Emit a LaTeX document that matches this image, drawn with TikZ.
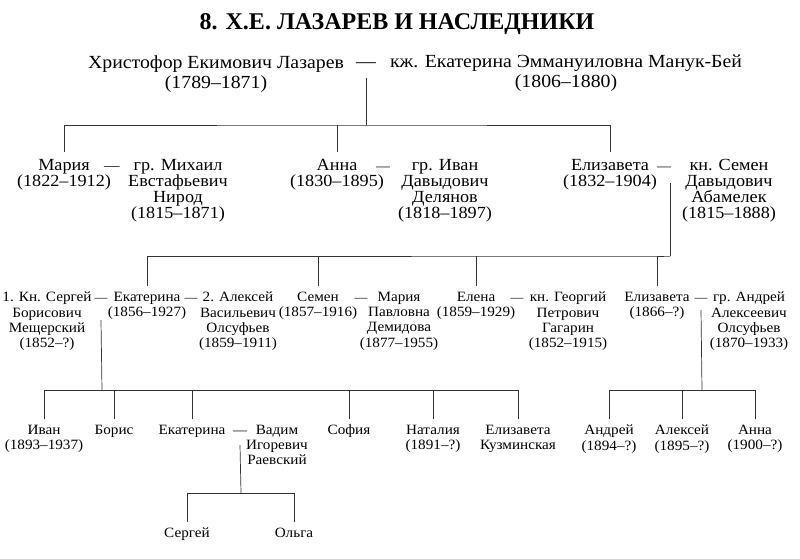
\documentclass[tikz,border=0pt]{standalone}
\usepackage{fontspec}
\setmainfont{Liberation Serif}[FakeStretch=1.07]
\newfontfamily\titlefont{Liberation Serif}
\usetikzlibrary{positioning}

\begin{document}
\begin{tikzpicture}[
  x=1pt, y=-1pt,
  heading/.style={inner sep=0pt, font=\titlefont\fontsize{24}{28}\selectfont\bfseries},
  founder/.style={align=center, anchor=north, inner sep=0pt,
    font=\fontsize{18.5}{20}\selectfont},
  child/.style={align=center, anchor=north, inner sep=0pt, outer sep=7pt,
    font=\fontsize{17}{16}\selectfont},
  grandchild/.style={align=center, anchor=north, inner sep=0pt, outer sep=6pt,
    font=\fontsize{14.2}{15.3}\selectfont},
  marriage/.style={anchor=base, inner sep=0pt, outer sep=0pt,
    font=\fontsize{#1}{#1}\selectfont},
  marriage/.default=14,
  tree/.style={draw=black!80, line width=0.7pt}
]
  \useasboundingbox (0,0) rectangle (800,558);

  % Title.
  \node[heading] (ttl) at (397,24) {8. Х.Е. ЛАЗАРЕВ И НАСЛЕДНИКИ};

  % Founding couple.
  \node[founder] (lazarev) at (216,55) {Христофор Екимович Лазарев\\(1789–1871)};
  \node[marriage=18.5] (m0) at (366,67) {—};
  \node[founder] (manuk) at (566,55) {кж. Екатерина Эммануиловна Манук-Бей\\(1806–1880)};

  % Daughters and their husbands.
  \node[child] (mariya) at (64,152) {Мария\\(1822–1912)};
  \node[marriage=14.5] (m1) at (112,170) {—};
  \node[child] (nirod) at (178,152) {гр. Михаил\\Евстафьевич\\Нирод\\(1815–1871)};
  \node[child] (anna) at (337,152) {Анна\\(1830–1895)};
  \node[marriage=13] (m2) at (383,170) {—};
  \node[child] (delyanov) at (445,152) {гр. Иван\\Давыдович\\Делянов\\(1818–1897)};
  \node[child] (eliz) at (610,152) {Елизавета\\(1832–1904)};
  \node[marriage=13] (m3) at (664,170) {—};
  \node[child] (abamelek) at (729,152) {кн. Семен\\Давыдович\\Абамелек\\(1815–1888)};

  % Abamelek grandchildren and spouses.
  \node[grandchild] (meshch) at (47,286) {1. Кн. Сергей\\Борисович\\Мещерский\\(1852–?)};
  \node[marriage=12] (m4) at (101,301) {—};
  \node[grandchild] (ekat) at (147,286) {Екатерина\\(1856–1927)};
  \node[marriage=12] (m5) at (191,301) {—};
  \node[grandchild] (olsufA) at (238,286) {2. Алексей\\Васильевич\\Олсуфьев\\(1859–1911)};
  \node[grandchild] (semen) at (318,286) {Семен\\(1857–1916)};
  \node[marriage=12] (m6) at (361,301) {—};
  \node[grandchild] (demidova) at (399,286) {Мария\\Павловна\\Демидова\\(1877–1955)};
  \node[grandchild] (elena) at (476,286) {Елена\\(1859–1929)};
  \node[marriage=12] (m7) at (517,301) {—};
  \node[grandchild] (gagarin) at (568,286) {кн. Георгий\\Петрович\\Гагарин\\(1852–1915)};
  \node[grandchild] (eliz2) at (657,286) {Елизавета\\(1866–?)};
  \node[marriage=12] (m8) at (701,301) {—};
  \node[grandchild] (olsufB) at (749,286) {гр. Андрей\\Алексеевич\\Олсуфьев\\(1870–1933)};

  % Next generation.
  \node[grandchild] (ivan) at (44,419) {Иван\\(1893–1937)};
  \node[grandchild] (boris) at (114,419) {Борис};
  \node[grandchild] (ekat2) at (192,419) {Екатерина};
  \node[marriage=13] (m9) at (240,434) {—};
  \node[grandchild] (vadim) at (277,419) {Вадим\\Игоревич\\Раевский};
  \node[grandchild] (sofia) at (349,419) {София};
  \node[grandchild] (natalia) at (433,419) {Наталия\\(1891–?)};
  \node[grandchild] (elizK) at (518,419) {Елизавета\\Кузминская};
  \node[grandchild] (andrei) at (609,419) {Андрей\\(1894–?)};
  \node[grandchild] (aleksei) at (682,419) {Алексей\\(1895–?)};
  \node[grandchild] (anna2) at (755,419) {Анна\\(1900–?)};

  \node[grandchild] (sergei) at (187,522) {Сергей};
  \node[grandchild] (olga) at (294,522) {Ольга};

  % Bars where the lines fork.
  \coordinate (b0) at (366,125);
  \coordinate (b1) at (670,256);
  \coordinate (b2) at (102,390);
  \coordinate (b3) at (702,390);
  \coordinate (b4) at (241,493);

  % Descent lines.
  \draw[tree] ([yshift=-11pt]m0.base) -- (b0);
  \draw[tree] (mariya.north) |- (b0) -| (eliz.north);
  \draw[tree] (b0 -| anna.north) -- (anna.north);

  \draw[tree] ([xshift=6pt,yshift=-13pt]m3.base) -- (b1);
  \draw[tree] (ekat.north) |- (b1) -| (eliz2.north);
  \draw[tree] (b1 -| semen.north) -- (semen.north);
  \draw[tree] (b1 -| elena.north) -- (elena.north);

  \draw[tree] ([yshift=-19pt]m4.base) -- (b2);
  \draw[tree] (ivan.north) |- (b2) -| (elizK.north);
  \draw[tree] (b2 -| boris.north) -- (boris.north);
  \draw[tree] (b2 -| ekat2.north) -- (ekat2.north);
  \draw[tree] (b2 -| sofia.north) -- (sofia.north);
  \draw[tree] (b2 -| natalia.north) -- (natalia.north);

  \draw[tree] ([yshift=-9pt]m8.base) -- (b3);
  \draw[tree] (andrei.north) |- (b3) -| (anna2.north);
  \draw[tree] (b3 -| aleksei.north) -- (aleksei.north);

  \draw[tree] ([yshift=-11pt]m9.base) -- (b4);
  \draw[tree] (sergei.north) |- (b4) -| (olga.north);
\end{tikzpicture}
\end{document}
